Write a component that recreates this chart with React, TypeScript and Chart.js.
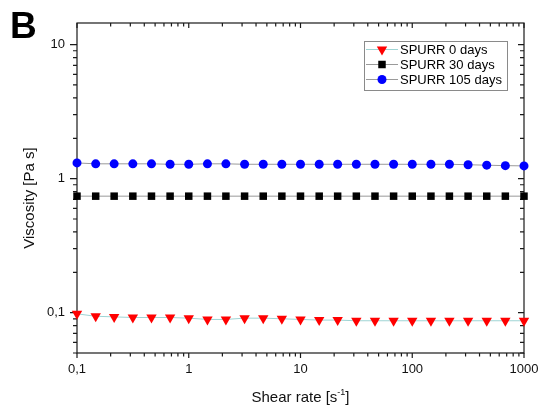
import React, { useEffect, useRef } from 'react';
import { Chart, registerables } from 'chart.js';

Chart.register(...registerables);

// ---- data ----
const shearRates = [
  0.1, 0.147, 0.215, 0.316, 0.464, 0.681, 1, 1.47, 2.15, 3.16, 4.64, 6.81, 10,
  14.7, 21.5, 31.6, 46.4, 68.1, 100, 147, 215, 316, 464, 681, 1000,
];
const spurr0 = [
  0.098, 0.094, 0.093, 0.092, 0.092, 0.092, 0.091, 0.089, 0.089, 0.091, 0.091, 0.09, 0.089,
  0.088, 0.088, 0.087, 0.087, 0.087, 0.087, 0.087, 0.087, 0.087, 0.087, 0.087, 0.087,
];
const spurr30 = [
  0.74, 0.74, 0.74, 0.74, 0.74, 0.74, 0.74, 0.74, 0.74, 0.74, 0.74, 0.74, 0.74,
  0.74, 0.74, 0.74, 0.74, 0.74, 0.74, 0.74, 0.74, 0.74, 0.74, 0.74, 0.74,
];
const spurr105 = [
  1.31, 1.29, 1.29, 1.29, 1.29, 1.28, 1.28, 1.29, 1.29, 1.28, 1.28, 1.28, 1.28,
  1.28, 1.28, 1.28, 1.28, 1.28, 1.28, 1.28, 1.28, 1.27, 1.26, 1.25, 1.245,
];
const seriesLabels = ['SPURR 0 days', 'SPURR 30 days', 'SPURR 105 days'];
const xTickValues = [0.1, 1, 10, 100, 1000];
const xTickLabels = ['0,1', '1', '10', '100', '1000'];
const yTickValues = [0.1, 1, 10];
const yTickLabels = ['0,1', '1', '10'];

const FONT = '"Liberation Sans", Arial, sans-serif';

function drawMarker(ctx: CanvasRenderingContext2D, style: string, x: number, y: number, r: number, color: string) {
  ctx.save();
  ctx.fillStyle = color;
  ctx.beginPath();
  if (style === 'triangle') {
    ctx.moveTo(x, y + r);
    ctx.lineTo(x - r * 0.866, y - r * 0.5);
    ctx.lineTo(x + r * 0.866, y - r * 0.5);
    ctx.closePath();
  } else if (style === 'rect') {
    const s = r * Math.SQRT1_2;
    ctx.rect(x - s, y - s, 2 * s, 2 * s);
  } else {
    ctx.arc(x, y, r, 0, Math.PI * 2);
  }
  ctx.fill();
  ctx.restore();
}

const framePlugin = {
  id: 'frame',
  beforeDatasetsDraw(chart: any) {
    const { ctx, chartArea, scales } = chart;
    const { left, right, top, bottom } = chartArea;
    const xs = scales.x;
    const ys = scales.y;
    ctx.save();
    ctx.strokeStyle = '#1a1a1a';
    ctx.lineWidth = 1.2;
    ctx.strokeRect(left, top, right - left, bottom - top);
    ctx.beginPath();
    // x ticks (bottom and top, pointing down)
    for (const d of [0.1, 1, 10, 100, 1000]) {
      for (let m = 1; m <= 9; m++) {
        const v = d * m;
        if (v < 0.0999 || v > 1000.1) continue;
        const px = xs.getPixelForValue(v);
        const len = m === 1 ? 5 : 3.5;
        ctx.moveTo(px, bottom);
        ctx.lineTo(px, bottom + len);
        ctx.moveTo(px, top);
        ctx.lineTo(px, top + len);
      }
    }
    // y ticks (left and right, pointing left)
    for (const d of [0.01, 0.1, 1, 10]) {
      for (let m = 1; m <= 9; m++) {
        const v = d * m;
        if (v < ys.min - 1e-9 || v > ys.max) continue;
        const py = ys.getPixelForValue(v);
        const len = m === 1 ? 7 : 4;
        ctx.moveTo(left - len, py);
        ctx.lineTo(left, py);
        ctx.moveTo(right - (m === 1 ? 6 : 4), py);
        ctx.lineTo(right, py);
      }
    }
    ctx.stroke();
    ctx.restore();
  },
  afterDraw(chart: any) {
    const { ctx, chartArea } = chart;
    ctx.save();
    // Panel letter
    ctx.fillStyle = '#000';
    ctx.font = `bold 37px ${FONT}`;
    ctx.textAlign = 'left';
    ctx.textBaseline = 'alphabetic';
    ctx.fillText('B', 10, 38);

    // Y axis title
    ctx.font = `15px ${FONT}`;
    ctx.fillStyle = '#111';
    ctx.save();
    ctx.translate(34, 198);
    ctx.rotate(-Math.PI / 2);
    ctx.textAlign = 'center';
    ctx.fillText('Viscosity [Pa s]', 0, 0);
    ctx.restore();

    // X axis title with superscript
    const main = 'Shear rate [s';
    const sup = '-1';
    const end = ']';
    ctx.font = `15px ${FONT}`;
    const w1 = ctx.measureText(main).width;
    const w3 = ctx.measureText(end).width;
    ctx.font = `9px ${FONT}`;
    const w2 = ctx.measureText(sup).width;
    const total = w1 + w2 + w3;
    const cx = (chartArea.left + chartArea.right) / 2;
    let x0 = cx - total / 2;
    const base = 402;
    ctx.textAlign = 'left';
    ctx.font = `15px ${FONT}`;
    ctx.fillText(main, x0, base);
    ctx.font = `9px ${FONT}`;
    ctx.fillText(sup, x0 + w1, base - 7);
    ctx.font = `15px ${FONT}`;
    ctx.fillText(end, x0 + w1 + w2, base);

    // Legend
    const bx = 364, by = 41, bw = 143, bh = 49;
    ctx.fillStyle = '#fff';
    ctx.fillRect(bx, by, bw, bh);
    ctx.strokeStyle = '#8a8a8a';
    ctx.lineWidth = 1;
    ctx.strokeRect(bx + 0.5, by + 0.5, bw, bh);
    const rowsY = [49.5, 64.5, 79.5];
    chart.data.datasets.forEach((ds: any, i: number) => {
      const yy = rowsY[i];
      ctx.strokeStyle = ds.borderColor;
      ctx.lineWidth = 1;
      ctx.beginPath();
      ctx.moveTo(366, yy);
      ctx.lineTo(398, yy);
      ctx.stroke();
      drawMarker(ctx, ds.pointStyle, 382, yy, ds.pointRadius, ds.pointBackgroundColor);
      ctx.fillStyle = '#000';
      ctx.font = `13px ${FONT}`;
      ctx.textBaseline = 'middle';
      ctx.textAlign = 'left';
      ctx.fillText(ds.label, 400, yy + 0.5);
    });
    ctx.restore();
  },
};

export default function App() {
  const canvasRef = useRef<HTMLCanvasElement | null>(null);

  useEffect(() => {
    document.body.style.margin = '0';
    const canvas = canvasRef.current;
    if (!canvas) return;
    const mk = (ys: number[]) => shearRates.map((x, i) => ({ x, y: ys[i] }));
    const chart = new Chart(canvas, {
      type: 'line',
      data: {
        datasets: [
          {
            label: seriesLabels[0],
            data: mk(spurr0),
            borderColor: '#9fd4d4',
            borderWidth: 1,
            pointStyle: 'triangle',
            pointRotation: 180,
            pointRadius: 6,
            pointBorderWidth: 0,
            pointBackgroundColor: '#ff0000',
            pointBorderColor: '#ff0000',
            clip: false,
          },
          {
            label: seriesLabels[1],
            data: mk(spurr30),
            borderColor: '#9a9a9a',
            borderWidth: 1,
            pointStyle: 'rect',
            pointRadius: 5.3,
            pointBorderWidth: 0,
            pointBackgroundColor: '#000000',
            pointBorderColor: '#000000',
            clip: false,
          },
          {
            label: seriesLabels[2],
            data: mk(spurr105),
            borderColor: '#9a9a9a',
            borderWidth: 1,
            pointStyle: 'circle',
            pointRadius: 4.5,
            pointBorderWidth: 0,
            pointBackgroundColor: '#0000ff',
            pointBorderColor: '#0000ff',
            clip: false,
          },
        ] as any,
      },
      options: {
        animation: false,
        responsive: false,
        events: [],
        layout: { padding: { left: 0, top: 23, right: 19, bottom: 0 } },
        scales: {
          x: {
            type: 'logarithmic',
            position: 'bottom',
            min: 0.1,
            max: 1000,
            grid: { display: false, drawTicks: false },
            border: { display: false },
            afterBuildTicks: (s: any) => {
              s.ticks = xTickValues.map((v) => ({ value: v }));
            },
            afterFit: (s: any) => {
              s.height = 56;
              s.paddingLeft = 0;
              s.paddingRight = 0;
            },
            ticks: {
              autoSkip: false,
              maxRotation: 0,
              padding: 9,
              color: '#111',
              font: { family: FONT, size: 13 },
              callback: (_v: any, i: number) => xTickLabels[i],
            },
          },
          y: {
            type: 'logarithmic',
            position: 'left',
            min: 0.05,
            max: 14.5,
            grid: { display: false, drawTicks: false },
            border: { display: false },
            afterBuildTicks: (s: any) => {
              s.ticks = yTickValues.map((v) => ({ value: v }));
            },
            afterFit: (s: any) => {
              s.width = 77;
              s.paddingTop = 0;
              s.paddingBottom = 0;
            },
            ticks: {
              autoSkip: false,
              padding: 12,
              color: '#111',
              font: { family: FONT, size: 13 },
              callback: (_v: any, i: number) => yTickLabels[i],
            },
          },
        },
        plugins: {
          legend: { display: false },
          tooltip: { enabled: false },
        },
      } as any,
      plugins: [framePlugin],
    });
    return () => chart.destroy();
  }, []);

  return (
    <div style={{ width: 543, height: 409, background: '#fff' }}>
      <canvas ref={canvasRef} width={543} height={409} />
    </div>
  );
}
